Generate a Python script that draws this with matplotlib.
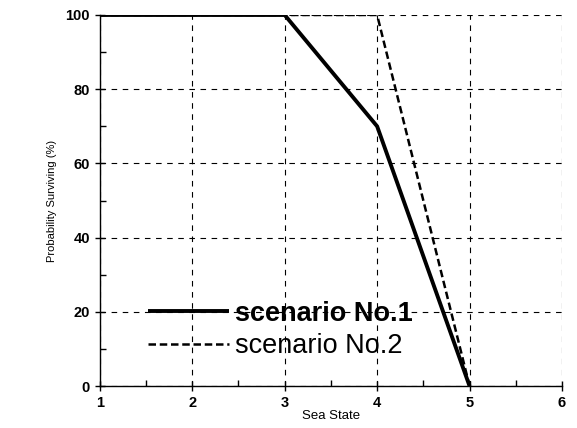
import numpy as np
import matplotlib.pyplot as plt
from matplotlib.ticker import MultipleLocator

plt.rcParams['font.family'] = ['Liberation Sans', 'DejaVu Sans']

sea_state = [1, 2, 3, 4, 5]
scenario1 = [100, 100, 100, 70, 0]
scenario2 = [100, 100, 100, 100, 0]

fig = plt.figure(figsize=(5.77, 4.28), dpi=100)
ax = fig.add_axes([0.173, 0.098, 0.801, 0.867])

ax.plot(sea_state, scenario1, color='black', lw=2.8, solid_capstyle='butt', label='scenario No.1', zorder=3)
ax.plot(sea_state, scenario2, color='black', lw=1.8, ls=(0, (3, 1.5)), label='scenario No.2', zorder=3)

ax.set_xlim(1, 6)
ax.set_ylim(0, 100)
ax.xaxis.set_major_locator(MultipleLocator(1))
ax.xaxis.set_minor_locator(MultipleLocator(0.5))
ax.yaxis.set_major_locator(MultipleLocator(20))
ax.yaxis.set_minor_locator(MultipleLocator(10))

ax.grid(True, which='major', color='black', ls=(0, (5, 5)), lw=0.8)
for s in ['top', 'right']:
    ax.spines[s].set_visible(False)
ax.spines['left'].set_linewidth(1.0)
ax.spines['bottom'].set_linewidth(1.0)

ax.tick_params(which='major', direction='inout', length=7, width=1, labelsize=10.5)
ax.tick_params(which='minor', direction='in', length=4, width=1)
for lab in ax.get_xticklabels() + ax.get_yticklabels():
    lab.set_fontweight('bold')

ax.set_xlabel('Sea State', fontsize=9.5, labelpad=0)
ax.set_ylabel('Probability Surviving (%)', fontsize=8, labelpad=6)

leg = ax.legend(loc='upper left', bbox_to_anchor=(0.104, 0.23), frameon=False,
                fontsize=19.5, handlelength=3.0, handletextpad=0.2, labelspacing=0.25,
                borderpad=0, borderaxespad=0)
leg.get_texts()[0].set_fontweight('bold')

fig.savefig('out.png', dpi=100)
